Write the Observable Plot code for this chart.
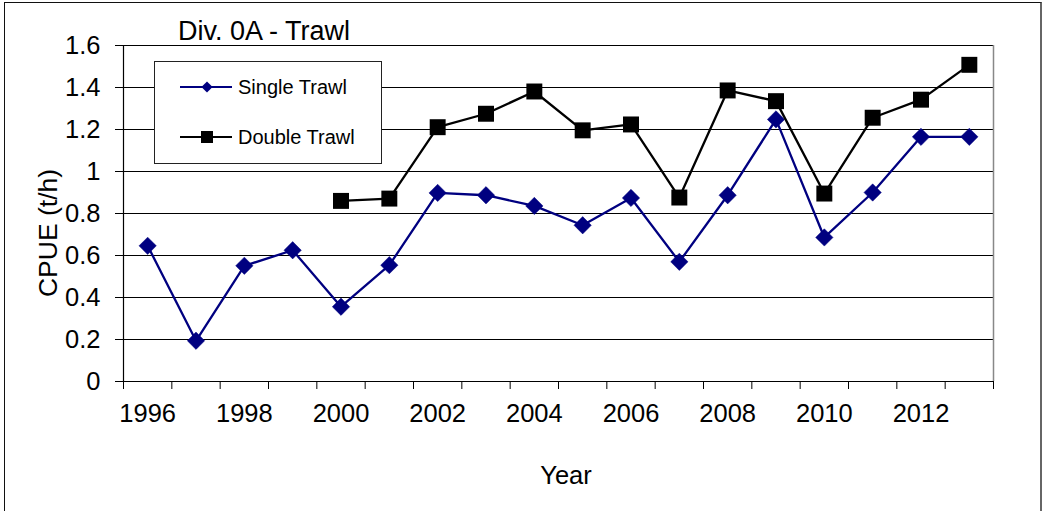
<!DOCTYPE html>
<html><head><meta charset="utf-8">
<script src="https://cdn.jsdelivr.net/npm/d3@7"></script>
<script src="https://cdn.jsdelivr.net/npm/@observablehq/plot@0.6"></script>
<style>
body{margin:0;background:#fff;font-family:"Liberation Sans",Arial,sans-serif;}
#wrap{position:relative;width:1045px;height:511px;overflow:hidden;background:#fff;}
#chart svg{display:block;}
#over{position:absolute;left:0;top:0;pointer-events:none;}
#frame{position:absolute;left:4px;top:2px;width:1038px;height:530px;border:1.5px solid #111;border-right:2px solid #666;box-sizing:border-box;pointer-events:none;}
</style>
</head><body>
<div id="wrap"><div id="chart"></div><div id="frame"></div></div>
<script>
const years = [1996,1997,1998,1999,2000,2001,2002,2003,2004,2005,2006,2007,2008,2009,2010,2011,2012,2013];
const singleTrawl = [0.646,0.194,0.551,0.625,0.356,0.554,0.898,0.887,0.836,0.744,0.874,0.570,0.887,1.248,0.686,0.900,1.165,1.165];
const doubleYears = [2000,2001,2002,2003,2004,2005,2006,2007,2008,2009,2010,2011,2012,2013];
const doubleTrawl = [0.860,0.871,1.211,1.275,1.381,1.196,1.224,0.876,1.386,1.335,0.895,1.256,1.342,1.508];
const yTicks = [0,0.2,0.4,0.6,0.8,1,1.2,1.4,1.6];
const xLabelYears = [1996,1998,2000,2002,2004,2006,2008,2010,2012];
const seriesNames = ["Single Trawl","Double Trawl"];
const titleText = "Div. 0A - Trawl";
const xTitle = "Year";
const yTitle = "CPUE (t/h)";

const single = years.map((y,i)=>({year:y, v:singleTrawl[i]}));
const dbl = doubleYears.map((y,i)=>({year:y, v:doubleTrawl[i]}));
const boundaries = [...years.map(y=>y-0.5), years[years.length-1]+0.5];

const navy = "#000080";
const fs = 25.5;

const plot = Plot.plot({
  width:1045, height:511,
  marginLeft:123, marginRight:52, marginTop:45, marginBottom:130,
  style:{fontFamily:'"Liberation Sans", Arial, sans-serif', background:"transparent", overflow:"visible"},
  x:{domain:[boundaries[0], boundaries[boundaries.length-1]]},
  y:{domain:[0,1.6]},
  marks:[
    Plot.gridY(yTicks,{stroke:"#000", strokeOpacity:1, strokeWidth:1}),
    Plot.axisY(yTicks,{tickSize:8, tickPadding:15, tickFormat:d=>String(+d.toFixed(1)), fontSize:fs, label:null, stroke:"#000"}),
    Plot.axisX(boundaries,{tickSize:8, tickFormat:()=>"", label:null, stroke:"#000"}),
    Plot.axisX(xLabelYears,{tickSize:0, tickPadding:22, tickFormat:d=>String(d), fontSize:fs, label:null}),
    Plot.ruleX([boundaries[0]],{stroke:"#000", strokeWidth:1.2}),
    Plot.ruleX([boundaries[boundaries.length-1]],{stroke:"#888", strokeWidth:1.5}),
    Plot.ruleY([0],{stroke:"#000", strokeWidth:1.2}),
    Plot.line(single,{x:"year", y:"v", stroke:navy, strokeWidth:2.3}),
    Plot.dot(single,{x:"year", y:"v", symbol:d3.symbolDiamond2, r:7.8, fill:navy, stroke:navy, strokeWidth:0.5}),
    Plot.line(dbl,{x:"year", y:"v", stroke:"#000", strokeWidth:2.3}),
    Plot.dot(dbl,{x:"year", y:"v", symbol:"square", r:9, fill:"#000", stroke:"none"})
  ]
});
document.getElementById("chart").appendChild(plot);

// overlay: title, axis titles, legend
const svg = d3.select("#wrap").append("svg").attr("id","over").attr("width",1045).attr("height",511)
  .style("font-family",'"Liberation Sans", Arial, sans-serif');
svg.append("text").attr("x",178).attr("y",40).attr("font-size",27).text(titleText);
svg.append("text").attr("x",566).attr("y",484).attr("font-size",25.5).attr("text-anchor","middle").text(xTitle);
svg.append("text").attr("transform","translate(57,233) rotate(-90)").attr("font-size",26.5).attr("text-anchor","middle").text(yTitle);
const lg = svg.append("g");
lg.append("rect").attr("x",154.5).attr("y",61.5).attr("width",227).attr("height",102).attr("fill","#fff").attr("stroke","#222").attr("stroke-width",1);
// single
lg.append("line").attr("x1",180).attr("x2",232).attr("y1",87).attr("y2",87).attr("stroke",navy).attr("stroke-width",2);
lg.append("path").attr("d",d3.symbol(d3.symbolDiamond2, 80)()).attr("transform","translate(207,87)").attr("fill",navy);
lg.append("text").attr("x",238).attr("y",94).attr("font-size",20).text(seriesNames[0]);
// double
lg.append("line").attr("x1",180).attr("x2",232).attr("y1",137).attr("y2",137).attr("stroke","#000").attr("stroke-width",2);
lg.append("rect").attr("x",201).attr("y",131).attr("width",12).attr("height",12).attr("fill","#000");
lg.append("text").attr("x",238).attr("y",144).attr("font-size",20).text(seriesNames[1]);
</script>
</body></html>
